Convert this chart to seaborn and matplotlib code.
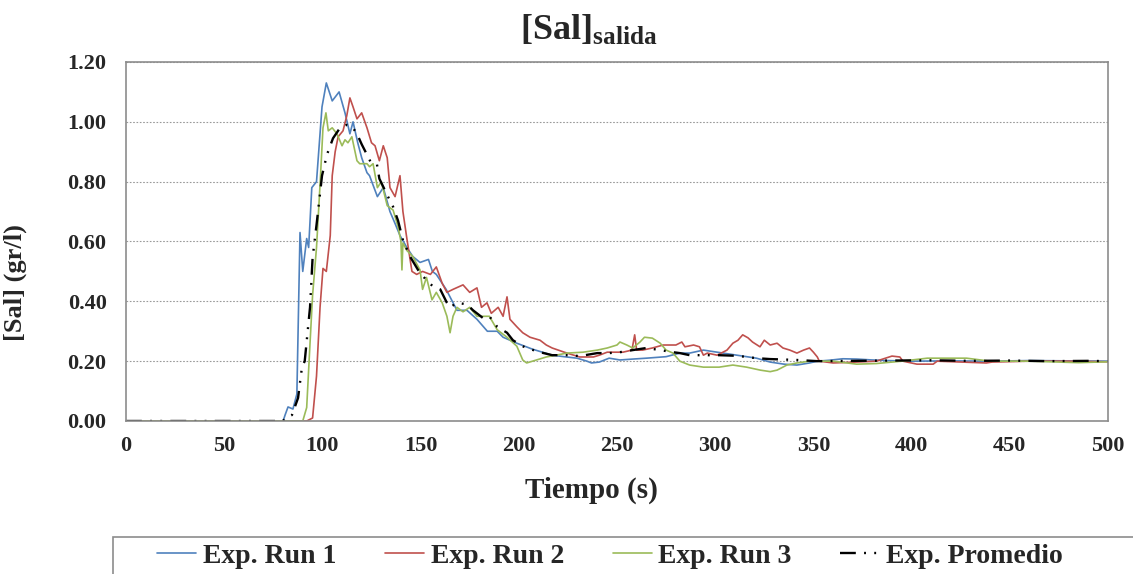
import matplotlib
matplotlib.use("Agg")
import matplotlib.pyplot as plt
from matplotlib.patches import Rectangle
from matplotlib.ticker import MultipleLocator, FormatStrFormatter
import seaborn as sns

# Exp. Run 1
t_run1 = [0, 80, 81, 82.5, 85, 87, 88.6, 90, 92, 93, 94.6, 97, 99.8, 102, 105,
          108.5, 111.5, 114, 115.6, 118, 120, 122.7, 124, 128, 131, 134.4, 137,
          139.5, 143, 146, 149.7, 154, 156, 158, 163, 168.5, 173.6, 178.7, 184,
          189, 192, 199, 203, 207, 212, 217, 223, 229.6, 234.7, 237, 241, 246,
          251.5, 258, 265, 275, 282, 287, 294, 301, 311, 321, 328, 335, 341.6,
          348, 352, 358, 365, 372, 380, 388, 400, 420, 440, 460, 480, 500]
run1 = [0, 0, 0.02, 0.047, 0.04, 0.09, 0.63, 0.50, 0.61, 0.58, 0.78, 0.80, 1.05,
        1.13, 1.07, 1.10, 1.03, 0.96, 1.00, 0.93, 0.88, 0.83, 0.82, 0.75, 0.78,
        0.70, 0.66, 0.62, 0.58, 0.55, 0.53, 0.54, 0.50, 0.49, 0.44, 0.37, 0.37,
        0.34, 0.30, 0.30, 0.28, 0.26, 0.25, 0.24, 0.23, 0.22, 0.215, 0.21, 0.20,
        0.194, 0.197, 0.21, 0.204, 0.207, 0.21, 0.215, 0.227, 0.227, 0.237, 0.23,
        0.22, 0.21, 0.197, 0.19, 0.187, 0.194, 0.20, 0.203, 0.208, 0.207, 0.204,
        0.202, 0.20, 0.201, 0.20, 0.202, 0.201, 0.20]

# Exp. Run 2
t_run2 = [0, 92, 95, 97, 98.8, 100.3, 102, 104, 105, 106.5, 108, 110.5, 112.4,
          114, 115.6, 117.6, 120, 122.7, 125, 126.8, 129, 131, 133, 134.4, 137,
          139.5, 141, 143, 145.6, 148, 151, 155, 158, 161, 163.4, 166.5, 171.6,
          175, 178.7, 181, 183.8, 186, 189.5, 192, 194, 195.5, 199, 202, 205.7,
          210.8, 214, 217, 224.5, 231, 238, 241, 245, 250, 253, 257.6, 259, 260,
          263, 268, 273.5, 280, 283, 284.6, 289, 292, 294, 296, 301, 306, 309,
          311.6, 314, 316.7, 319, 322.8, 325, 328, 331.5, 334.5, 338, 341.6, 345,
          348, 350, 352, 353, 360, 372, 382, 390, 394, 395.6, 402.7, 411, 413,
          438, 441, 460, 480, 500]
run2 = [0, 0, 0.01, 0.15, 0.38, 0.51, 0.50, 0.62, 0.82, 0.90, 0.95, 0.97, 1.02,
        1.08, 1.05, 1.01, 1.03, 0.98, 0.93, 0.92, 0.87, 0.92, 0.88, 0.78, 0.75,
        0.82, 0.70, 0.61, 0.50, 0.49, 0.50, 0.49, 0.515, 0.46, 0.43, 0.44, 0.455,
        0.43, 0.445, 0.38, 0.395, 0.36, 0.38, 0.35, 0.415, 0.34, 0.315, 0.295,
        0.28, 0.27, 0.254, 0.244, 0.227, 0.214, 0.214, 0.22, 0.23, 0.23, 0.23,
        0.237, 0.288, 0.237, 0.237, 0.244, 0.254, 0.254, 0.264, 0.248, 0.254,
        0.248, 0.22, 0.227, 0.22, 0.237, 0.26, 0.27, 0.288, 0.278, 0.264, 0.248,
        0.27, 0.254, 0.26, 0.244, 0.237, 0.227, 0.237, 0.244, 0.23, 0.214, 0.20,
        0.194, 0.197, 0.20, 0.217, 0.214, 0.20, 0.19, 0.19, 0.20, 0.194, 0.197,
        0.20, 0.20, 0.198]

# Exp. Run 3
t_run3 = [0, 90, 92, 93.7, 95, 97, 98.8, 100.3, 101.8, 103, 105, 107.4, 110,
          111.5, 113, 115, 117.6, 119, 122.7, 124, 125.8, 128, 130, 133, 136,
          138.5, 140, 140.5, 141, 143, 146, 149.7, 151, 153, 155.8, 158, 161,
          163.4, 165, 166.5, 168.5, 171.6, 175, 178.7, 181.8, 185, 189, 194, 199,
          202, 204, 209, 214, 219, 224.5, 232.7, 240, 245, 250, 251.5, 255, 258,
          261.7, 264, 268, 272, 275, 278.5, 282, 287, 294, 302, 309, 316, 323,
          328, 331.5, 336.5, 341.6, 348, 360, 372, 382, 395, 408, 428, 440, 460,
          485, 500]
run3 = [0, 0, 0.045, 0.26, 0.42, 0.58, 0.79, 0.98, 1.03, 0.97, 0.98, 0.96, 0.92,
        0.94, 0.93, 0.95, 0.87, 0.86, 0.86, 0.85, 0.86, 0.78, 0.80, 0.72, 0.705,
        0.65, 0.60, 0.505, 0.595, 0.57, 0.55, 0.505, 0.44, 0.48, 0.405, 0.43,
        0.395, 0.35, 0.295, 0.35, 0.38, 0.365, 0.38, 0.35, 0.35, 0.35, 0.305,
        0.28, 0.25, 0.204, 0.194, 0.204, 0.214, 0.22, 0.227, 0.23, 0.237, 0.244,
        0.254, 0.264, 0.254, 0.244, 0.264, 0.28, 0.277, 0.26, 0.237, 0.227, 0.20,
        0.187, 0.18, 0.18, 0.187, 0.18, 0.17, 0.165, 0.17, 0.187, 0.194, 0.20,
        0.20, 0.19, 0.192, 0.20, 0.21, 0.21, 0.20, 0.20, 0.195, 0.198]

# Exp. Promedio
t_prom = [0, 80, 81, 84.5, 87.6, 89.6, 91, 93.7, 95, 97, 99.8, 102.3, 105.4, 109,
          112.5, 115, 117.6, 120, 122.7, 125, 127.8, 129, 133.4, 136, 138.5, 141,
          144.6, 148.7, 153, 156.3, 160, 163.4, 165, 168.5, 173.6, 176.7, 181.8,
          185, 189, 194, 197, 202, 204, 210.8, 217, 224.5, 231, 240, 246, 251.5,
          258, 265, 272, 278.5, 282, 287, 294, 302, 311, 321, 328, 341.6, 352,
          370, 390, 410, 430, 450, 470, 490, 500]
prom = [0, 0, 0.01, 0.02, 0.077, 0.18, 0.20, 0.38, 0.545, 0.655, 0.82, 0.89,
        0.945, 0.98, 0.99, 0.985, 0.96, 0.925, 0.89, 0.86, 0.857, 0.81, 0.75,
        0.716, 0.67, 0.605, 0.55, 0.505, 0.47, 0.45, 0.44, 0.395, 0.38, 0.395,
        0.39, 0.37, 0.344, 0.35, 0.315, 0.295, 0.27, 0.25, 0.244, 0.23, 0.22,
        0.22, 0.217, 0.227, 0.227, 0.23, 0.237, 0.244, 0.237, 0.23, 0.227, 0.22,
        0.22, 0.22, 0.218, 0.21, 0.207, 0.204, 0.20, 0.201, 0.202, 0.203, 0.201,
        0.202, 0.20, 0.201, 0.20]

labels = ["Exp. Run 1", "Exp. Run 2", "Exp. Run 3", "Exp. Promedio"]

sns.set_style("white")
plt.rcParams["font.family"] = ["Liberation Serif", "DejaVu Serif"]
plt.rcParams["font.weight"] = "bold"
plt.rcParams["mathtext.fontset"] = "custom"
plt.rcParams["mathtext.rm"] = "Liberation Serif:bold"
plt.rcParams["mathtext.bf"] = "Liberation Serif:bold"

W, H = 1133, 574
fig = plt.figure(figsize=(W / 100, H / 100), dpi=100)
ax = fig.add_axes([126 / W, 1 - 421 / H, (1108 - 126) / W, (421 - 62) / H])

sns.lineplot(x=t_run1, y=run1, ax=ax, color="#4F81BD", lw=1.2, label=labels[0])
sns.lineplot(x=t_run2, y=run2, ax=ax, color="#C0504D", lw=1.2, label=labels[1])
sns.lineplot(x=t_run3, y=run3, ax=ax, color="#9BBB59", lw=1.2, label=labels[2])
sns.lineplot(x=t_prom, y=prom, ax=ax, color="black", lw=1.7, label=labels[3],
             linestyle=(0, (6.7, 3.5, 0.8, 3.5, 0.8, 3.5)))

ax.set_xlim(0, 500)
ax.set_ylim(0, 1.2)
ax.xaxis.set_major_locator(MultipleLocator(50))
ax.xaxis.set_minor_locator(MultipleLocator(10))
ax.yaxis.set_major_locator(MultipleLocator(0.2))
ax.yaxis.set_minor_locator(MultipleLocator(0.04))
ax.yaxis.set_major_formatter(FormatStrFormatter("%.2f"))

ax.grid(axis="y", which="major", color="#9a9a9a", linestyle=(0, (1.5, 1.5)), lw=0.8)
ax.grid(axis="x", visible=False)
for sp in ax.spines.values():
    sp.set_color("#8c8c8c")
    sp.set_linewidth(1.2)

ax.tick_params(axis="both", which="both", direction="in", color="#8c8c8c",
               labelsize=16)
ax.tick_params(axis="both", which="major", length=0)
ax.tick_params(axis="both", which="minor", length=4, width=0.8)
ax.tick_params(axis="y", which="major", pad=14)
ax.tick_params(axis="x", which="major", pad=11)
for lab in ax.get_xticklabels() + ax.get_yticklabels():
    lab.set_fontweight("bold")

ax.set_xlabel("Tiempo (s)", fontsize=21, fontweight="bold")
ax.set_ylabel("[Sal] (gr/l)", fontsize=19, fontweight="bold")
ax.xaxis.set_label_coords((591 - 126) / (1108 - 126), -(477 - 421) / (421 - 62))
ax.yaxis.set_label_coords(-(126 - 27) / (1108 - 126), (421 - 283) / (421 - 62))

fig.text(589 / W, 1 - 31 / H, r"$\mathbf{[Sal]_{salida}}$", fontsize=26,
         ha="center", va="center")

handles, labs = ax.get_legend_handles_labels()
ax.get_legend().remove()
fig.legend(handles, labs, loc="center left", bbox_to_anchor=(132 / W, 1 - 556 / H),
           ncol=4, frameon=False, handlelength=1.4,
           handletextpad=0.25, columnspacing=1.75,
           prop={"family": "Liberation Serif", "weight": "bold", "size": 20})
fig.patches.append(Rectangle((113 / W, -0.05), 1.2, 0.05 + (574 - 537) / H,
                             transform=fig.transFigure, fill=False,
                             edgecolor="#8c8c8c", lw=1.2))

fig.savefig("out.png", dpi=100)
